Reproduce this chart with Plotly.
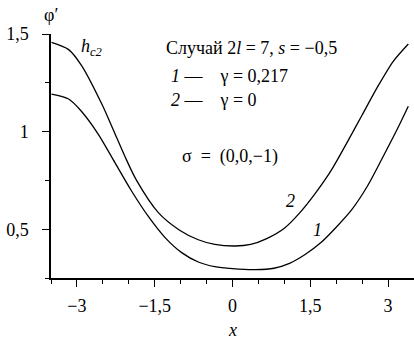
import plotly.graph_objects as go

# curve 2 (gamma = 0), upper branch, h_c2 at the left end
x2 = [-3.49, -3.16, -2.91, -2.52, -2.30, -2.07, -1.85, -1.43, -1.02, -0.66, -0.34,
      0.05, 0.35, 0.66, 1.0, 1.3, 1.6, 1.9, 2.2, 2.5, 2.8, 3.1, 3.39]
y2 = [1.457, 1.420, 1.338, 1.141, 1.010, 0.870, 0.750, 0.585, 0.495, 0.446, 0.422,
      0.414, 0.422, 0.452, 0.505, 0.585, 0.685, 0.800, 0.940, 1.085, 1.230, 1.360, 1.449]

# curve 1 (gamma = 0,217)
x1 = [-3.49, -3.16, -2.91, -2.59, -2.27, -1.95, -1.63, -1.30, -0.98, -0.66, -0.34,
      0.0, 0.44, 0.8, 1.1, 1.4, 1.7, 2.0, 2.3, 2.6, 2.9, 3.2, 3.39]
y1 = [1.192, 1.167, 1.103, 0.987, 0.842, 0.697, 0.568, 0.457, 0.380, 0.332, 0.308,
      0.298, 0.293, 0.300, 0.325, 0.370, 0.430, 0.510, 0.600, 0.720, 0.870, 1.025, 1.130]

x_ticks = [-3, -1.5, 0, 1.5, 3]
x_labels = ["\u22123", "\u22121,5", "0", "1,5", "3"]
y_ticks = [0.5, 1, 1.5]
y_labels = ["0,5", "1", "1,5"]

serif = "Liberation Serif"

fig = go.Figure()
for xs, ys in [(x2, y2), (x1, y1)]:
    fig.add_trace(go.Scatter(x=xs, y=ys, mode="lines",
                             line=dict(color="black", width=1.3, shape="spline", smoothing=0.8),
                             hoverinfo="skip", showlegend=False))

fig.update_layout(
    width=414, height=347,
    margin=dict(l=51, r=0, t=34, b=69),
    plot_bgcolor="white", paper_bgcolor="white",
    font=dict(family=serif, size=18, color="black"),
)
fig.update_xaxes(range=[-3.5, 3.5], showgrid=False, zeroline=False, automargin=False,
                 showline=True, linecolor="black", linewidth=1.5,
                 tickmode="array", tickvals=x_ticks, ticktext=x_labels,
                 ticks="outside", ticklen=7, tickwidth=1.3, tickcolor="black",
                 ticklabelstandoff=4,
                 minor=dict(dtick=0.5, ticks="outside", ticklen=4, tickwidth=1.2, tickcolor="black"))
fig.update_yaxes(range=[0.25, 1.5], showgrid=False, zeroline=False, automargin=False,
                 showline=True, linecolor="black", linewidth=1.5,
                 tickmode="array", tickvals=y_ticks, ticktext=y_labels,
                 ticks="outside", ticklen=7, tickwidth=1.3, tickcolor="black",
                 ticklabelstandoff=10,
                 minor=dict(dtick=0.25, ticks="outside", ticklen=4, tickwidth=1.2, tickcolor="black"))

# text positions in page pixels; plot area spans x 51..414, y 34..278
def note(xp, yp, text, size=18, anchor="left"):
    fig.add_annotation(text=text, x=(xp - 51) / 363, y=(278 - yp) / 244,
                       xref="paper", yref="paper", xanchor=anchor, yanchor="middle",
                       showarrow=False, font=dict(family=serif, size=size, color="black"))

note(42, 15, "\u03c6\u2032")
note(79, 47, "<i>h<sub>c2</sub></i>")
note(164, 48, "Случай 2<i>l</i> = 7, <i>s</i> = \u22120,5")
note(169, 76, "<i>1</i> \u2014\u2002\u2002\u03b3 = 0,217")
note(169, 100, "<i>2</i> \u2014\u2002\u2002\u03b3 = 0")
note(180, 156, "\u03c3\u2002=\u2002(0,0,\u22121)")
note(284, 201, "<i>2</i>")
note(311, 230, "<i>1</i>")
note(232, 330, "<i>x</i>", 18, "center")

# drop the browser's default 8px body margin so the figure sits at the page corner
fig.write_html("out.html", config={"displayModeBar": False},
               post_script="document.body.style.margin='0px';")
